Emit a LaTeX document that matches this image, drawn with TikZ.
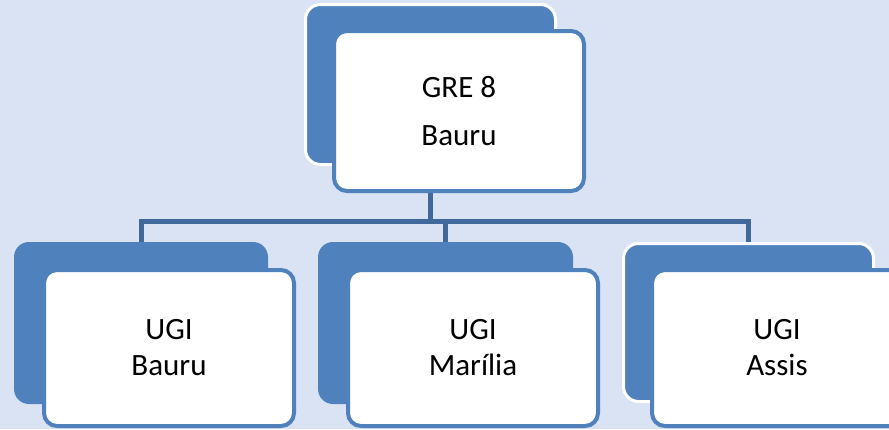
\documentclass[tikz,border=0pt]{standalone}
\usepackage{fontspec}
\setmainfont{Carlito}
\usetikzlibrary{shadows}
\definecolor{bgc}{HTML}{DAE3F3}
\definecolor{boxblue}{HTML}{4F81BD}
\definecolor{conncol}{HTML}{41689A}
\tikzset{
  backbox/.style={rectangle, rounded corners=15pt, fill=boxblue, inner sep=0pt},
  backboxw/.style={backbox, draw=white, line width=3pt},
  frontbox/.style={rectangle, rounded corners=13pt, fill=white, draw=boxblue, line width=4pt,
    inner sep=0pt, minimum width=250pt, align=center, font=\fontsize{31}{36}\selectfont,
    drop shadow={opacity=0.2, shadow xshift=1pt, shadow yshift=-2pt}},
  conn/.style={draw=conncol, line width=5pt}
}
\begin{document}
\begin{tikzpicture}[x=1pt,y=-1pt]
\useasboundingbox (0,0) rectangle (889,429);
\clip (0,0) rectangle (889,429);
\fill[bgc] (0,0) rectangle (889,429);
\coordinate (bus) at (0,221.5);
% back boxes
\node[backboxw, minimum width=250pt, minimum height=160pt] (topback) at (430.5,84.5) {};
\node[backbox, minimum width=254pt, minimum height=162pt] (leftback) at (141,323) {};
\node[backbox, minimum width=255pt, minimum height=162pt] (midback) at (445.5,323) {};
\node[backboxw, minimum width=250pt, minimum height=158pt] (rightback) at (748.5,322.5) {};
% connectors (under the front boxes)
\draw[conn] (topback.south) -- (topback.south |- bus);
\draw[conn] (leftback.north) -- (leftback.north |- bus) -- (rightback.north |- bus) -- (rightback.north);
\draw[conn] (midback.north) -- (midback.north |- bus);
% front boxes
\node[frontbox, minimum height=160pt, font=\fontsize{31}{48}\selectfont] (top) at (459,111) {GRE 8\\Bauru};
\node[frontbox, minimum height=156pt] (left) at (169,348) {UGI\\Bauru};
\node[frontbox, minimum height=156pt] (mid) at (473,348) {UGI\\Marília};
\node[frontbox, minimum height=156pt] (right) at (777,348) {UGI\\Assis};
\end{tikzpicture}
\end{document}
